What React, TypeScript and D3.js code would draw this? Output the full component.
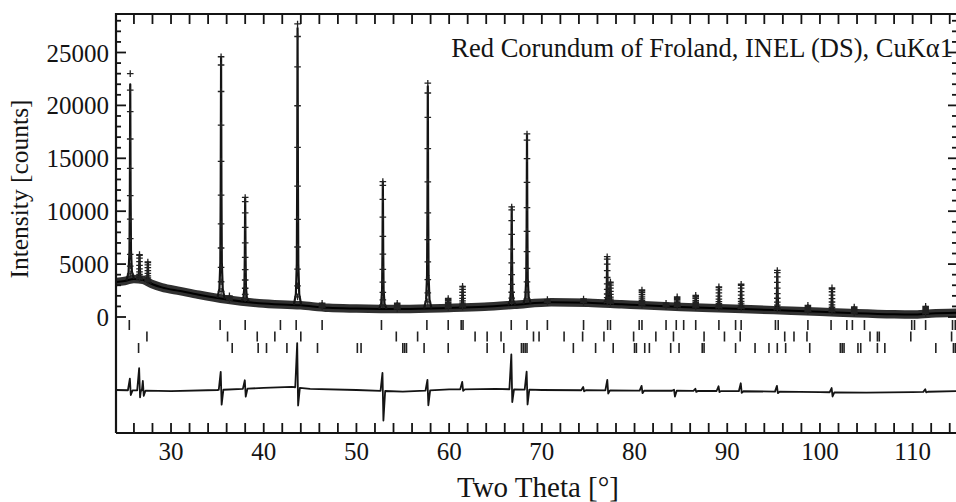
import React from 'react';
import * as d3 from 'd3';

// two theta [deg], background counts
const background: [number, number][] = [
  [24, 3300], [25, 3400], [26, 3600], [27, 3500], [28, 3100], [29, 2800], [31, 2450],
  [33, 2100], [36, 1650], [39.5, 1300], [44, 1100], [47, 870], [50, 800], [55, 750],
  [60, 850], [63.8, 970], [67, 1150], [71, 1400], [75, 1350], [78.6, 1200], [81, 1100],
  [85, 950], [90, 800], [95, 650], [100, 500], [104, 350], [108, 250], [110, 230],
  [112, 330], [115, 400],
];

// position, calculated max, observed max
const peaks: [number, number, number][] = [
  [25.6, 22000, 23000], [26.6, 5900, 5900], [27.5, 5200, 5200], [35.4, 24500, 24600],
  [36.3, 2000, 2000], [38.0, 11200, 11300], [43.65, 27300, 27700], [46.3, 1300, 1300],
  [52.85, 12800, 12800], [54.4, 1300, 1300], [57.7, 21800, 22100], [59.9, 1750, 1750],
  [61.45, 2900, 2900], [66.75, 10400, 10400], [68.4, 17200, 17300], [70.6, 1650, 1650],
  [74.5, 1700, 1700], [77.05, 5600, 5700], [77.4, 3300, 3300], [80.8, 2500, 2550],
  [83.4, 1300, 1300], [84.6, 1900, 1900], [86.6, 2050, 2050], [89.1, 2850, 2850],
  [91.5, 3050, 3100], [95.4, 4300, 4400], [98.7, 1100, 1100], [101.3, 2700, 2750],
  [103.7, 950, 950], [111.4, 1000, 1000],
];

// difference curve (obs - calc): slow drift and the spikes at the strong lines
const diffBase: [number, number][] = [
  [24, 0], [30, -100], [35, 0], [40, 200], [43, 300], [45, 100], [50, 0], [55, -150],
  [60, 50], [65, 100], [70, 0], [80, -50], [90, -100], [100, -200], [105, -250],
  [110, -200], [115, -100],
];
const diffSpikes: [number, number, number][] = [
  [25.6, 1100, -450], [26.6, 2100, -650], [27.0, 900, -500], [35.4, 1700, -1400],
  [38.0, 800, -750], [43.65, 4200, -1700], [52.85, 1700, -2800], [57.7, 1000, -1400],
  [61.45, 700, -150], [66.75, 3300, -1200], [68.4, 1700, -1400], [74.5, 300, -100],
  [77.1, 1000, -300], [80.8, 450, -250], [84.3, 100, -550], [86.6, 200, -100],
  [89.1, 450, -100], [91.5, 750, -150], [95.4, 550, -150], [101.3, 400, -400],
  [111.4, 250, -50],
];
const diffOffset = -6900;

// Bragg reflection markers, three phases
const phaseA = [25.5, 35.3, 38.0, 41.8, 43.5, 46.3, 52.7, 57.6, 59.9, 61.3, 61.5, 66.7, 68.4,
  70.6, 74.5, 77.1, 77.4, 80.5, 80.8, 83.4, 84.5, 85.3, 86.6, 89.1, 90.9, 91.5, 95.2, 95.5,
  98.7, 101.2, 102.9, 103.5, 104.8, 109.9, 110.2, 111.4, 114.3, 114.6];
const phaseB = [27.4, 36.1, 39.3, 41.2, 44.0, 54.3, 56.6, 62.8, 64.1, 65.6, 69.1, 69.7, 72.4,
  74.4, 76.7, 79.9, 82.3, 84.2, 87.5, 89.7, 91.4, 96.2, 97.2, 98.6, 105.4, 106.2, 106.4,
  109.8, 114.2];
const phaseC = [26.5, 36.6, 39.4, 40.3, 42.5, 45.8, 50.1, 50.5, 55.0, 55.2, 55.4, 57.3, 59.9,
  64.1, 65.9, 67.8, 68.0, 68.2, 68.4, 73.4, 75.8, 77.7, 80.0, 80.2, 81.1, 81.6, 83.9, 84.8,
  87.3, 87.5, 90.9, 93.0, 94.5, 95.4, 96.3, 98.9, 102.2, 102.4, 102.6, 104.1, 104.4, 106.2,
  107.0, 112.5, 114.4, 114.6, 114.8];

const xTickLabels = [30, 40, 50, 60, 70, 80, 90, 100, 110];
const yTickLabels = [0, 5000, 10000, 15000, 20000, 25000];

const font = '"Liberation Serif", "Times New Roman", Times, serif';
const ink = '#141414';

const App = () => {
  const width = 956;
  const height = 502;
  const left = 116, top = 14, bottom = 433, right = 958;

  const x = d3.scaleLinear().domain([24, 115]).range([115.4, 959]);
  const y = d3.scaleLinear().domain([0, 25000]).range([317, 52.5]);
  const bgAt = d3.scaleLinear().domain(background.map((d) => d[0])).range(background.map((d) => d[1]));
  const driftAt = d3.scaleLinear().domain(diffBase.map((d) => d[0])).range(diffBase.map((d) => d[1]));

  const line = d3.line<[number, number]>().x((d) => x(d[0])).y((d) => y(d[1]));
  const smooth = d3.line<[number, number]>().x((d) => x(d[0])).y((d) => y(d[1])).curve(d3.curveMonotoneX);

  // peak outline relative to position / amplitude
  const shape: [number, number][] = [
    [-0.4, 0], [-0.18, 0.04], [-0.08, 0.15], [-0.04, 0.45], [0, 1],
    [0.04, 0.45], [0.08, 0.15], [0.18, 0.04], [0.4, 0],
  ];
  const levels = [0.97, 0.86, 0.72, 0.57, 0.43, 0.31, 0.21, 0.13, 0.07, 0.03];

  const peakPaths = peaks.map(([p, h]) => {
    const amp = h - bgAt(p);
    return line(shape.map(([dx, f]) => [p + dx, bgAt(p + dx) + f * amp]) as [number, number][]);
  });

  let plus = '';
  const s = 3.3;
  peaks.forEach(([p, h, o]) => {
    const b = bgAt(p);
    const cx = x(p);
    [...levels.map((f) => b + f * (h - b)), o].forEach((v) => {
      const cy = y(v);
      plus += `M${cx - s},${cy}h${2 * s}M${cx},${cy - s}v${2 * s}`;
    });
  });

  // difference curve
  const spikePts: [number, number][] = [];
  diffSpikes.forEach(([p, up, dn]) => {
    spikePts.push([p - 0.25, driftAt(p - 0.25)], [p - 0.04, driftAt(p) + up], [p + 0.06, driftAt(p) + dn], [p + 0.25, driftAt(p + 0.25)]);
  });
  const basePts = diffBase.filter(([t]) => !diffSpikes.some(([p]) => Math.abs(t - p) < 0.3));
  const diffPts = [...basePts, ...spikePts].sort((a, b) => a[0] - b[0]).map(([t, v]) => [t, v + diffOffset] as [number, number]);

  const rows = [
    { data: phaseA, y0: 320, y1: 330 },
    { data: phaseB, y0: 331.5, y1: 341.5 },
    { data: phaseC, y0: 343, y1: 353 },
  ];

  const xMinor = d3.range(26, 115, 2);
  const yMinor = d3.range(0, 28001, 1000);

  return (
    <svg width={width} height={height} style={{ position: 'absolute', left: 0, top: 0, background: '#fff' }}>
      <defs>
        <clipPath id="plot">
          <rect x={left} y={top} width={right - left} height={bottom - top} />
        </clipPath>
      </defs>

      <g clipPath="url(#plot)">
        {/* observed band */}
        <path d={smooth(background) || ''} fill="none" stroke="#303030" strokeWidth={8.5} strokeLinejoin="round" />
        <path d={smooth(background) || ''} fill="none" stroke="#000" strokeWidth={2} />
        {peakPaths.map((d, i) => (
          <path key={i} d={d || ''} fill="none" stroke={ink} strokeWidth={2.2} strokeLinejoin="round" />
        ))}
        <path d={plus} fill="none" stroke="#222" strokeWidth={1.3} />

        {rows.map((r, i) => (
          <g key={i}>
            {r.data.map((t, j) => (
              <line key={j} x1={x(t)} x2={x(t)} y1={r.y0} y2={r.y1} stroke="#222" strokeWidth={1.6} />
            ))}
          </g>
        ))}

        <path d={line(diffPts) || ''} fill="none" stroke={ink} strokeWidth={1.8} strokeLinejoin="round" />
      </g>

      {/* frame */}
      <path d={`M${left},${bottom}V${top}H${right}V${bottom}H${left}`} fill="none" stroke={ink} strokeWidth={2.2} />

      {/* x ticks, both edges, pointing in */}
      {xMinor.map((t) => (
        <g key={t}>
          <line x1={x(t)} x2={x(t)} y1={bottom} y2={bottom - 10} stroke={ink} strokeWidth={1.8} />
          <line x1={x(t)} x2={x(t)} y1={top} y2={top + 10} stroke={ink} strokeWidth={1.8} />
        </g>
      ))}
      {xTickLabels.map((t) => (
        <text key={t} x={x(t)} y={460} textAnchor="middle" fontFamily={font} fontSize={25} fill={ink}>{t}</text>
      ))}

      {/* y ticks */}
      {yMinor.map((v) => {
        const major = v % 5000 === 0;
        return (
          <g key={v}>
            <line x1={left} x2={left + (major ? 10 : 5)} y1={y(v)} y2={y(v)} stroke={ink} strokeWidth={1.8} />
            <line x1={right} x2={right - (major ? 10 : 6)} y1={y(v)} y2={y(v)} stroke={ink} strokeWidth={1.8} />
          </g>
        );
      })}
      {yTickLabels.map((v) => (
        <text key={v} x={109} y={y(v) + 9} textAnchor="end" fontFamily={font} fontSize={25} fill={ink}>{v}</text>
      ))}

      <text x={953} y={57} textAnchor="end" fontFamily={font} fontSize={26.5} fill={ink}>
        Red Corundum of Froland, INEL (DS), CuKα1
      </text>
      <text transform="translate(28,189) rotate(-90)" textAnchor="middle" fontFamily={font} fontSize={25.5} fill={ink}>
        Intensity [counts]
      </text>
      <text x={538} y={497} textAnchor="middle" fontFamily={font} fontSize={29} fill={ink}>
        Two Theta [°]
      </text>
    </svg>
  );
};

export default App;
